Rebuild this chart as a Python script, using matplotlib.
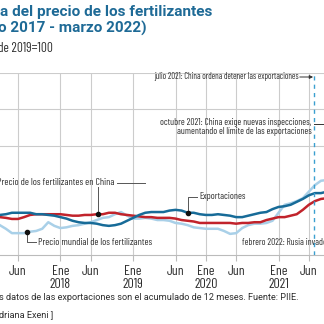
import matplotlib
matplotlib.use("Agg")
import matplotlib.pyplot as plt
import numpy as np

# months counted from January 2017 (0 = Ene 2017)
months = np.arange(1, 57)

china_price = [102, 102, 101, 99.5, 99.5, 102, 105, 106, 106, 106, 106, 106, 105, 104,
               104, 105, 105, 106, 106, 108, 108, 106, 105, 104, 103, 102, 102, 101,
               101, 101, 100, 98, 97, 96, 94, 94, 94, 94, 94, 94, 93, 94, 94, 95,
               95, 98, 100, 102, 102, 104, 106, 112, 119, 124, 127, 128]
exports = [105, 105, 106, 108, 108, 108, 108, 106, 106, 105, 104, 102, 100, 97,
           95, 94, 94, 93, 91, 90, 91, 93, 97, 101, 105, 108, 109, 109,
           109, 111, 112, 111, 108, 108, 106, 105, 105, 106, 105, 104, 102, 102, 104, 106,
           108, 109, 113, 116, 117, 119, 123, 127, 132, 135, 135, 137]
world_price = [95, 91, 86, 80, 80, 80, 82, 83, 86, 95, 90, 87, 88, 90,
               91, 93, 95, 98, 101, 102, 106, 109, 104, 100, 100, 101, 100, 98,
               98, 97, 94, 93, 91, 88, 87, 86, 86, 86, 83, 79, 80, 87, 91, 93,
               93, 94, 97, 108, 119, 121, 124, 128, 137, 146, 152, 153]

tick_months = [5, 12, 17, 24, 31, 36, 41, 48, 53]
tick_labels = ["Jun", "Ene\n2018", "Jun", "Ene\n2019", "Jun", "Ene\n2020", "Jun", "Ene\n2021", "Jun"]
grid_values = [200, 250, 300]

july_2021 = 53.9

dark_blue = "#176b98"
red = "#c1232b"
light_blue = "#a9d0e8"
title_blue = "#1e6a96"
text_grey = "#2e2e2e"
narrow = ["Barlow Condensed", "DejaVu Sans"]
plain = ["Roboto", "DejaVu Sans"]

fig = plt.figure(figsize=(3.24, 3.24), dpi=100)
renderer = fig.canvas.get_renderer()


def fit(t, width_px):
    # scale font size so the text is width_px wide
    w = t.get_window_extent(renderer).width
    t.set_fontsize(t.get_fontsize() * width_px / w)
    return t


def probe_size(s, width_px, **kw):
    probe = fit(fig.text(0, 0, s, fontsize=10, **kw), width_px)
    size = probe.get_fontsize()
    probe.remove()
    return size


ax = fig.add_axes([-0.038, 0.213, 1.1596, 0.5617])
ax.set_xlim(0, 62)
ax.set_ylim(50, 300)

for v in grid_values:
    ax.axhline(v, color="#cccccc", lw=0.8, zorder=0)
for m in tick_months:
    ax.axvline(m, color="#cccccc", lw=0.8, zorder=0)

ax.plot(months, world_price, color=light_blue, lw=1.8, zorder=3)
ax.plot(months, china_price, color=red, lw=1.8, zorder=4)
ax.plot(months, exports, color=dark_blue, lw=1.8, zorder=5)

ax.axvline(july_2021, color="#3a9fd0", lw=1.0, dashes=(3, 3), zorder=6)

for s in ["top", "right", "left"]:
    ax.spines[s].set_visible(False)
ax.spines["bottom"].set_color("#bbbbbb")
ax.spines["bottom"].set_linewidth(0.8)
ax.set_yticks([])
ax.set_xticks(tick_months)

# tick labels sized so that "2018" is about 21 px wide
tick_size = probe_size("2018", 21, family=narrow)
ax.set_xticklabels(tick_labels, family=narrow, fontsize=tick_size, color=text_grey, linespacing=1.0)
ax.tick_params(axis="x", length=4, color="#bbbbbb", pad=3)


def leader(m, series, ylab, xlab):
    yv = np.interp(m, months, series)
    ax.plot([m, m, xlab], [yv, ylab, ylab], color="#555555", lw=0.7, zorder=7)
    ax.plot(m, yv, "o", color="#111111", ms=3, zorder=8)


leader(33, exports, 129.7, 34.6)
fit(ax.text(35.0, 129.7, "Exportaciones", family=narrow, fontsize=8, color=text_grey,
            va="center"), 46)

leader(6.5, world_price, 67.5, 8.0)
fit(ax.text(8.3, 67.5, "Precio mundial de los fertilizantes", family=narrow, fontsize=8,
            color=text_grey, va="center"), 114)

yc = np.interp(18.2, months, china_price)
ax.plot([18.2, 18.2], [yc, 143], color="#555555", lw=0.7, zorder=7)
ax.plot(18.2, yc, "o", color="#111111", ms=3, zorder=8)
ax.plot([21.3, 26.0], [149, 149], color="#555555", lw=0.7, zorder=7)
fit(ax.text(21.0, 149, "Precio de los fertilizantes en China", family=narrow, fontsize=8,
            color=text_grey, va="center", ha="right"), 117)

fit(ax.text(51.3, 295.5, "julio 2021: China ordena detener las exportaciones", family=narrow,
            fontsize=8, color=text_grey, va="center", ha="right"), 145)
ax.annotate("", xy=(july_2021 - 0.2, 294.5), xytext=(51.5, 294.5),
            arrowprops=dict(arrowstyle="-|>", color="#333333", lw=0.7,
                            mutation_scale=5, shrinkA=0, shrinkB=0))
octo = ax.text(53.4, 226, "octubre 2021: China exige nuevas inspecciones,\naumentando el límite de las exportaciones",
               family=narrow, fontsize=8, color=text_grey, va="center", ha="right",
               linespacing=0.95, multialignment="right")
fit(octo, 151)
ax.plot([53.9, 58], [230, 230], color="#333333", lw=0.7, zorder=7)
ax.text(42.0, 66.5, "febrero 2022: Rusia invade Ucrania", family=narrow,
        fontsize=probe_size("febrero 2022: Rusia invade", 84, family=narrow),
        color=text_grey, va="center")

# titles and footer, in figure pixels


def fig_text(x, y, s, **kw):
    return fig.text(x / 324, 1 - y / 324, s, va="center", **kw)


fit(fig_text(0, 12, "a del precio de los fertilizantes", fontsize=11, weight="bold",
             color=title_blue, family=plain), 212)
fit(fig_text(-2, 28, "o 2017 - marzo 2022)", fontsize=11, weight="bold",
             color=title_blue, family=plain), 148)
fit(fig_text(-2, 48, "de 2019=100", fontsize=8, color=text_grey, family=narrow), 55)
foot = fit(fig_text(-1, 298, "s datos de las exportaciones son el acumulado de 12 meses. Fuente: PIIE.",
                    fontsize=6.3, color=text_grey, family=plain), 300)
fig_text(-1, 315, "driana Exeni ]", fontsize=foot.get_fontsize(), color=text_grey, family=plain)

fig.savefig("out.png", dpi=100)
